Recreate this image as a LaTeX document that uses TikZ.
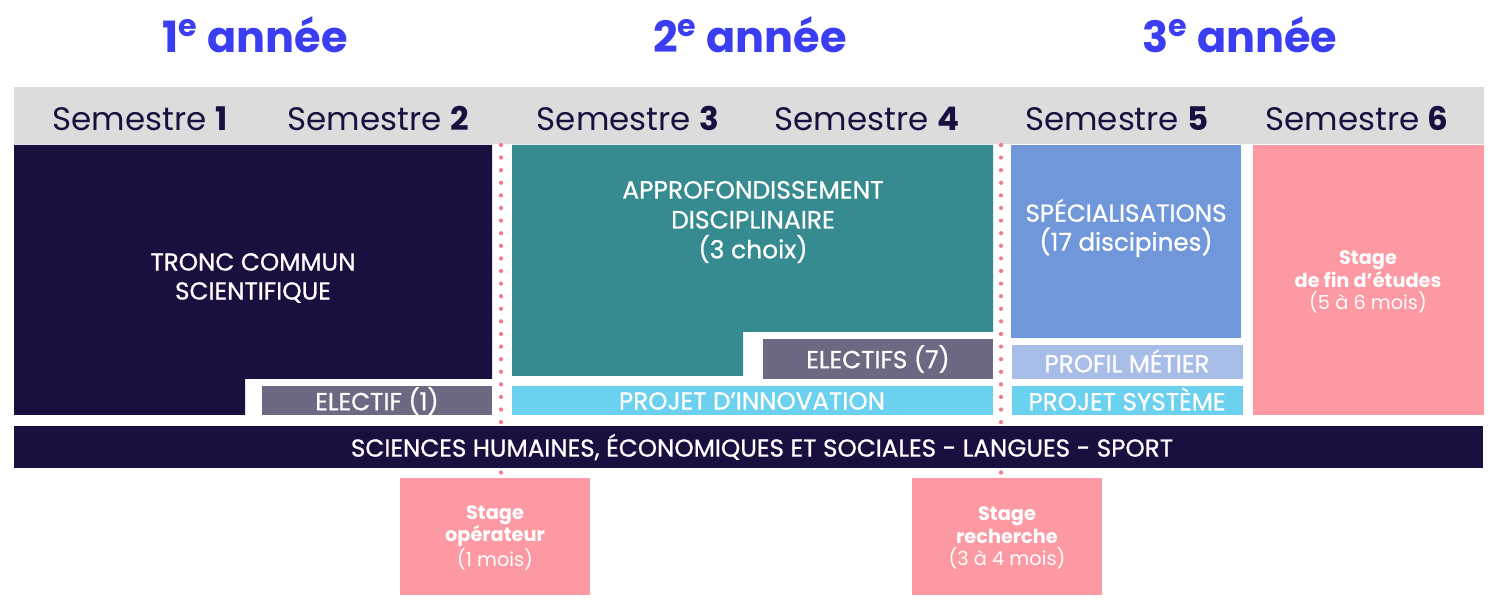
\documentclass[tikz,border=0pt]{standalone}
\usepackage{fontspec}
\setmainfont{Poppins}
\newfontfamily\medfont[FakeBold=0.8]{Poppins}
\definecolor{navy}{HTML}{1B0F3F}
\definecolor{headgrey}{HTML}{DCDCDC}
\definecolor{teal}{HTML}{358B8F}
\definecolor{elgrey}{HTML}{6E6882}
\definecolor{cyanbox}{HTML}{6CD1EE}
\definecolor{bluebox}{HTML}{7097D9}
\definecolor{lightblue}{HTML}{A7BDE8}
\definecolor{pinkbox}{HTML}{FC99A2}
\definecolor{titleblue}{HTML}{3B3DF2}
\definecolor{dotpink}{HTML}{F07C8C}
\tikzset{
  semlabel/.style={text=navy,inner sep=0pt,font=\fontsize{18.5}{22}\selectfont},
  yearlabel/.style={text=titleblue,inner sep=0pt,font=\fontsize{24.5}{28}\selectfont\bfseries},
  boxtext/.style={text=white,inner sep=0pt,align=center,font=\medfont\fontsize{14}{16.5}\selectfont},
  stagetext/.style={text=white,inner sep=0pt,align=center,font=\fontsize{11}{12.8}\selectfont},
  sepline/.style={dotpink,line width=0.085cm,line cap=round,dash pattern=on 0pt off 0.252cm}
}
\begin{document}
\begin{tikzpicture}[x=0.02cm,y=-0.02cm]
\useasboundingbox (0,0) rectangle (1500,607);
\fill[headgrey] (14,87) rectangle (1484,144);
\foreach \n/\x in {1/140,2/378,3/628,4/867,5/1117,6/1357}
  \node[semlabel] (sem\n) at (\x,119) {Semestre \textbf{\n}};
\foreach \a/\x in {1/255,2/750,3/1240}
  \node[yearlabel] (year\a) at (\x,35) {\a\textsuperscript{e} année};

\draw[sepline] (501,145) -- (501,478);
\draw[sepline] (1001,145) -- (1001,478);

\fill[navy] (14,145) -| (492,379) -| (245,415) -| cycle;
\fill[elgrey] (262,386) rectangle (492,415);
\fill[teal] (512,145) -| (993,332) -| (743,376) -| cycle;
\fill[elgrey] (763,339) rectangle (993,379);
\fill[cyanbox] (512,386) rectangle (993,415);
\fill[bluebox] (1011,145) rectangle (1241,338);
\fill[lightblue] (1012,345) rectangle (1243,379);
\fill[cyanbox] (1012,386) rectangle (1243,415);
\fill[pinkbox] (1253,145) rectangle (1484,415);
\fill[navy] (14,426) rectangle (1483,468);
\fill[pinkbox] (400,478) rectangle (590,595);
\fill[pinkbox] (912,478) rectangle (1102,595);

\node[boxtext] (tronc) at (253,278) {TRONC COMMUN\\SCIENTIFIQUE};
\node[boxtext] (electif) at (377,401) {ELECTIF (1)};
\node[boxtext,font=\medfont\fontsize{14.2}{17}\selectfont] (appro) at (753,222) {APPROFONDISSEMENT\\DISCIPLINAIRE\\(3 choix)};
\node[boxtext] (electifs) at (878,359) {ELECTIFS (7)};
\node[boxtext] (innov) at (752,401) {PROJET D’INNOVATION};
\node[boxtext] (spec) at (1126,228) {SPÉCIALISATIONS\\(17 discipines)};
\node[boxtext] (profil) at (1127,361) {PROFIL MÉTIER};
\node[boxtext] (systeme) at (1127,399) {PROJET SYSTÈME};
\node[stagetext] (stagefin) at (1368,282) {\textbf{Stage}\\\textbf{de fin d’études}\\(5 à 6 mois)};
\node[boxtext] (shes) at (762,447) {SCIENCES HUMAINES, ÉCONOMIQUES ET SOCIALES - LANGUES - SPORT};
\node[stagetext] (stageop) at (495,538) {\textbf{Stage}\\\textbf{opérateur}\\(1 mois)};
\node[stagetext] (stagerech) at (1007,538) {\textbf{Stage}\\\textbf{recherche}\\(3 à 4 mois)};
\end{tikzpicture}
\end{document}
